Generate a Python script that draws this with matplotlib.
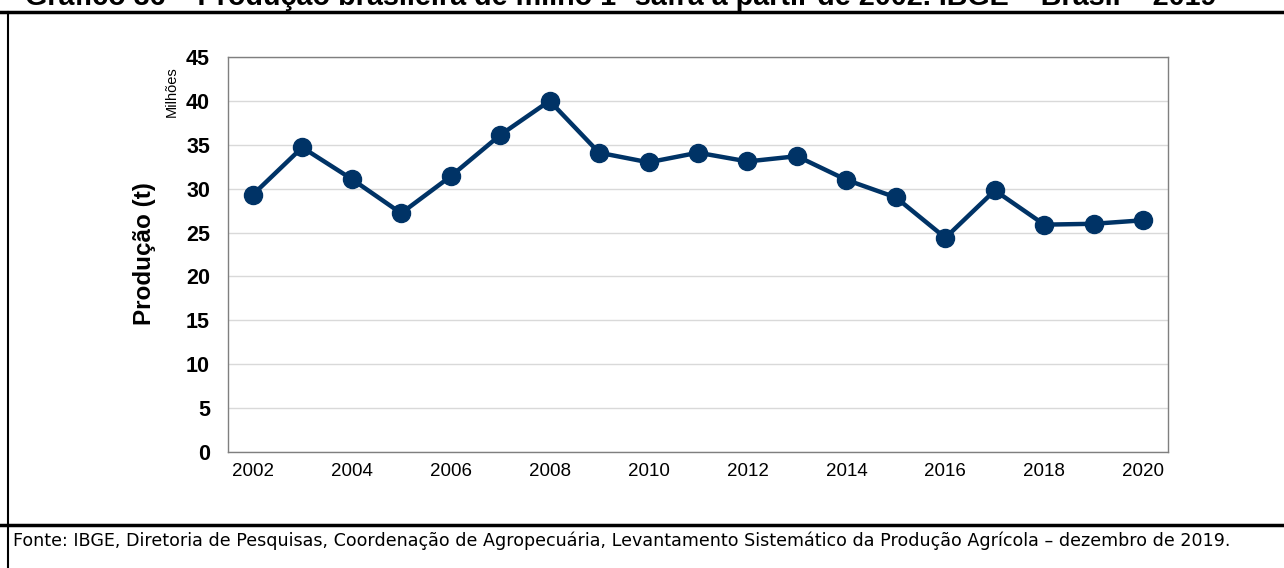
import matplotlib
matplotlib.use('Agg')
import matplotlib.pyplot as plt
from matplotlib.lines import Line2D

plt.rcParams['font.family'] = ['Liberation Sans', 'DejaVu Sans']

anos = list(range(2002, 2021))
producao = [29.3, 34.7, 31.1, 27.2, 31.4, 36.1, 40.0, 34.1, 33.0, 34.1,
            33.1, 33.7, 31.0, 29.0, 24.4, 29.8, 25.9, 26.0, 26.4]
y_ticks = [0, 5, 10, 15, 20, 25, 30, 35, 40, 45]

titulo = 'Gráfico 36 – Produção brasileira de milho 1ª safra a partir de 2002. IBGE – Brasil – 2019'
fonte = ('Fonte: IBGE, Diretoria de Pesquisas, Coordenação de Agropecuária, '
         'Levantamento Sistemático da Produção Agrícola – dezembro de 2019.')

W, H = 1284, 568
fig = plt.figure(figsize=(W / 100, H / 100), dpi=100)

# plot area in pixels
left, right, top, bottom = 228, 1168, 57, 452
ax = fig.add_axes([left / W, 1 - bottom / H, (right - left) / W, (bottom - top) / H])

x = list(range(len(anos)))
ax.plot(x, producao, color='#003366', lw=3.2, marker='o', ms=13, zorder=3)

ax.set_xlim(-0.5, len(anos) - 0.5)
ax.set_ylim(0, 45)
ax.set_yticks(y_ticks)
ax.set_yticklabels([str(v) for v in y_ticks], fontsize=15.5, fontweight='bold')
ax.set_xticks(x[::2])
ax.set_xticklabels([str(a) for a in anos[::2]], fontsize=13.5)
ax.tick_params(axis='both', length=0)
ax.tick_params(axis='y', pad=13)
ax.tick_params(axis='x', pad=8)
ax.grid(axis='y', color='#d9d9d9', lw=1)
ax.set_axisbelow(True)
for s in ax.spines.values():
    s.set_color('#7f7f7f')
    s.set_linewidth(1)

fig.text(145 / W, 1 - 254 / H, 'Produção (t)', rotation=90, fontsize=17.5,
         fontweight='bold', ha='center', va='center')
fig.text(172 / W, 1 - 92 / H, 'Milhões', rotation=90, fontsize=10.5,
         ha='center', va='center')

# title cut at the top, as in the original
fig.text(25 / W, 1 - 5 / H, titulo, fontsize=20.7, fontweight='bold',
         ha='left', va='baseline')

# frame lines
fig.add_artist(Line2D([0, 1], [1 - 12 / H, 1 - 12 / H], color='black', lw=2.5))
fig.add_artist(Line2D([0, 1], [1 - 525 / H, 1 - 525 / H], color='black', lw=2.5))
fig.add_artist(Line2D([8 / W, 8 / W], [0, 1 - 12 / H], color='black', lw=1.5))

fig.text(13 / W, 1 - 541 / H, fonte, fontsize=12.6, family='DejaVu Sans',
         ha='left', va='center')

fig.savefig('out.png', dpi=100)
